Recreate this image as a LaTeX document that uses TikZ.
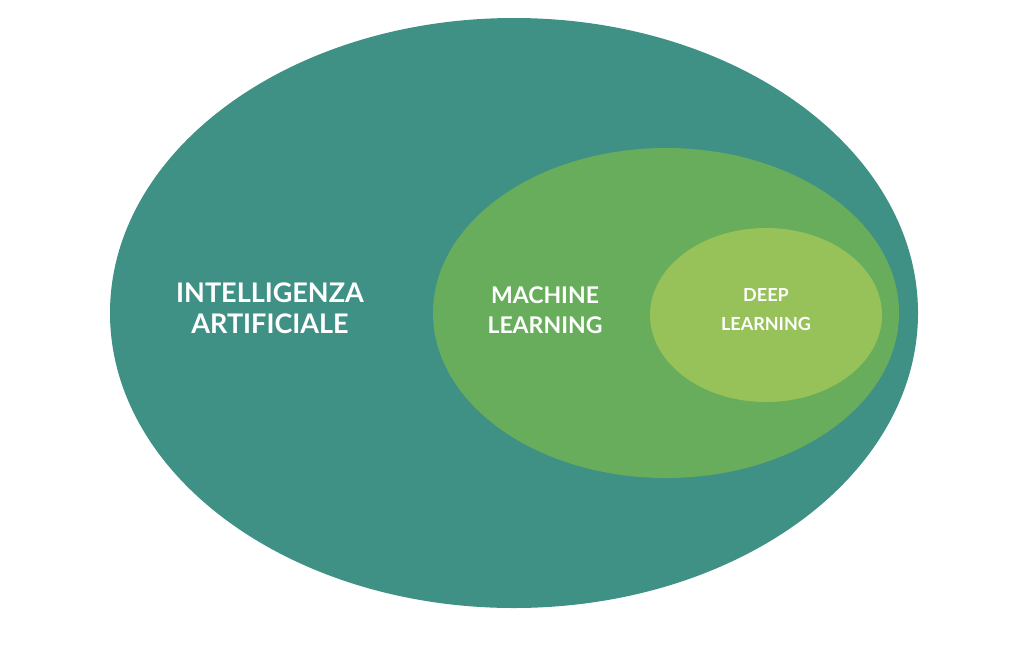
\documentclass[tikz,border=0pt]{standalone}
\usepackage{fontspec}
\setmainfont{Lato}
\definecolor{aiteal}{HTML}{3F9186}
\definecolor{mlgreen}{HTML}{67AD5B}
\definecolor{dlgreen}{HTML}{97C25A}
\begin{document}
\begin{tikzpicture}[x=1pt, y=-1pt,
    set/.style={ellipse, inner sep=0pt},
    label/.style={text=white, font=\bfseries, align=center}
]
\useasboundingbox (0,0) rectangle (1024,646);

% Sets
\fill[aiteal] (514,313) ellipse [x radius=404, y radius=295];
\fill[mlgreen] (666,313) ellipse [x radius=233, y radius=165];
\fill[dlgreen] (766,315) ellipse [x radius=116, y radius=87];

% Labels
\node[label, font=\fontsize{27}{31}\selectfont\bfseries] (ai) at (270,308) {INTELLIGENZA\\ARTIFICIALE};
\node[label, font=\fontsize{23}{30}\selectfont\bfseries] (ml) at (545,310) {MACHINE\\LEARNING};
\node[label, font=\fontsize{18}{29}\selectfont\bfseries] (dl) at (766,310) {DEEP\\LEARNING};

\end{tikzpicture}
\end{document}
